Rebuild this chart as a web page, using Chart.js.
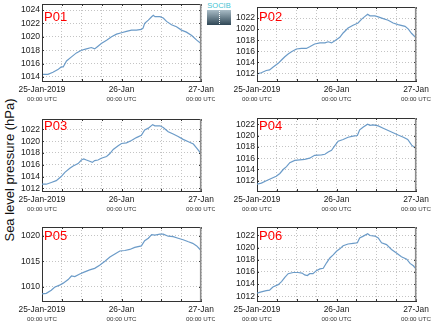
<!DOCTYPE html>
<html><head><meta charset="utf-8">
<script src="https://cdn.jsdelivr.net/npm/chart.js@4/dist/chart.umd.min.js"></script>
<style>
html,body{margin:0;padding:0;background:#fff;width:435px;height:327px;overflow:hidden;position:relative;}
.cv{position:absolute;}
#ytitle{position:absolute;left:9px;top:170px;transform:translate(-50%,-50%) rotate(-90deg);font:13px 'Liberation Sans',Arial,sans-serif;white-space:nowrap;color:#111;}
#logo{position:absolute;left:207px;top:2px;width:24px;}
#logo .t{font:7.5px 'Liberation Sans',Arial,sans-serif;color:#3fc3d3;text-align:center;line-height:8px;letter-spacing:0px;}
#logo .b{height:15px;background:linear-gradient(#a9bcc6,#2f4756);position:relative;}
#logo .b:after{content:'';position:absolute;left:12px;top:1px;height:13px;border-left:1px dotted #fff;}
</style></head><body>
<div id="ytitle">Sea level pressure (hPa)</div>
<div id="logo"><div class="t">SOCIB</div><div class="b"></div></div>
<script>
// ---- data ----
const stations = ['P01','P02','P03','P04','P05','P06'];
const xTickHours = [0, 24, 48];
const xTickLabels = ['25-Jan-2019', '26-Jan', '27-Jan'];
const xTickSub = ['00:00 UTC', '00:00 UTC', '00:00 UTC'];
const xGridHours = [0, 6, 12, 18, 24, 30, 36, 42, 48];

const hoursP01 = [0.3,1.8,3.3,4.8,5.8,6.4,7.4,8.9,10.4,11.9,13.4,14.9,15.9,16.9,17.9,19.5,21.0,22.5,24.0,25.5,27.0,28.5,30.0,30.5,31.0,32.1,33.1,33.6,34.1,35.6,36.6,37.6,39.1,40.6,42.1,43.6,45.2,46.7,48.0];
const pressP01 = [1014.4,1014.4,1014.7,1015.1,1015.5,1015.5,1016.4,1017.0,1017.6,1018.0,1018.2,1018.4,1018.2,1018.6,1019.0,1019.5,1020.0,1020.4,1020.6,1020.8,1021.0,1021.0,1021.1,1021.3,1022.0,1022.5,1023.0,1023.2,1023.0,1023.0,1022.8,1022.3,1021.8,1021.5,1021.0,1020.7,1020.2,1019.5,1019.0];

const hoursP02 = [0,1.3,2.8,3.8,4.8,6.4,7.4,8.4,9.4,10.4,11.9,13.4,14.9,15.9,17.4,19.0,20.5,21.5,22.5,23.5,25.0,26.0,27.5,29.0,30.5,31.6,32.6,33.4,34.1,35.6,36.6,38.1,39.6,41.1,42.6,44.7,45.7,46.7,48.0];
const pressP02 = [1011.9,1012.1,1012.5,1012.6,1013.1,1013.8,1014.4,1015.0,1015.5,1015.9,1016.4,1016.5,1016.5,1016.8,1017.3,1017.5,1017.5,1017.7,1017.5,1017.9,1018.5,1019.3,1020.2,1020.7,1021.1,1021.8,1022.3,1022.7,1022.4,1022.4,1022.2,1021.9,1021.6,1021.1,1020.8,1020.5,1020.0,1019.2,1018.4];

const hoursP03 = [0,1.3,2.8,4.3,5.8,6.9,8.4,9.4,10.9,11.9,12.6,13.4,14.4,15.2,15.9,16.9,17.9,19.5,20.5,21.5,23.0,24.0,25.5,27.0,28.5,30.0,31.0,32.1,33.4,34.1,35.6,36.6,38.1,39.6,41.1,42.6,44.2,45.7,46.7,48.0];
const pressP03 = [1012.7,1012.7,1013.0,1013.3,1014.0,1014.7,1015.4,1015.8,1016.2,1016.8,1017.0,1016.8,1016.6,1016.4,1016.7,1016.8,1017.1,1017.4,1017.9,1018.6,1019.2,1019.6,1019.7,1020.1,1020.6,1021.0,1021.9,1022.2,1022.8,1022.6,1022.6,1022.3,1021.6,1021.2,1020.8,1020.3,1019.9,1019.5,1018.8,1017.9];

const hoursP04 = [0,1.3,2.8,4.3,5.8,6.9,7.9,8.9,9.9,11.4,12.9,14.4,15.9,17.4,19.5,20.5,21.5,22.5,23.5,24.5,26.0,27.5,29.0,30.3,31.0,32.1,33.4,34.1,35.1,36.6,38.1,39.6,41.1,42.6,44.2,45.5,46.7,48.0];
const pressP04 = [1011.4,1011.6,1012.0,1012.4,1012.8,1013.3,1014.0,1014.5,1015.2,1015.6,1015.7,1015.8,1016.0,1016.5,1016.6,1016.7,1017.1,1017.4,1018.2,1019.0,1019.3,1019.7,1019.9,1020.0,1021.0,1021.5,1022.0,1021.8,1021.9,1021.7,1021.3,1020.9,1020.5,1020.1,1019.7,1019.3,1018.3,1017.7];

const hoursP05 = [0,1.3,2.8,3.8,5.3,6.4,7.9,8.9,9.9,11.4,12.9,14.4,15.9,17.4,19.0,20.5,22.0,23.5,25.0,26.5,28.0,30.0,31.0,32.1,33.1,34.1,35.6,36.6,38.1,39.6,41.1,42.6,44.2,45.5,46.7,48.0];
const pressP05 = [1008.6,1008.7,1009.3,1009.9,1010.3,1010.7,1011.4,1012.1,1012.0,1012.5,1012.9,1013.3,1013.6,1014.2,1015.0,1015.8,1016.4,1017.0,1017.1,1017.3,1017.7,1018.0,1019.0,1019.5,1020.2,1020.1,1020.3,1020.3,1019.9,1019.8,1019.5,1019.2,1018.8,1018.5,1018.0,1017.1];

const hoursP06 = [0,1.3,2.8,3.8,4.8,6.4,7.4,8.4,9.4,10.9,12.4,13.6,14.4,15.2,15.9,16.9,17.9,19.0,20.0,21.0,22.0,23.0,24.0,25.0,26.0,27.5,29.0,30.3,31.0,32.1,33.4,34.1,35.6,36.6,37.6,39.1,40.6,42.1,43.6,45.2,46.2,47.2,48.0];
const pressP06 = [1012.5,1012.7,1012.9,1013.0,1013.5,1013.9,1014.4,1015.1,1015.7,1015.9,1015.9,1015.8,1015.5,1015.4,1015.7,1015.7,1016.2,1016.5,1016.6,1017.5,1018.3,1018.8,1019.4,1019.8,1020.3,1020.6,1020.7,1020.8,1021.6,1021.9,1022.3,1022.0,1021.9,1021.6,1020.8,1020.5,1019.7,1019.1,1018.5,1018.1,1017.4,1017.0,1016.5];

const yTicksP01 = [1014,1016,1018,1020,1022,1024];
const yTicksP02 = [1012,1014,1016,1018,1020,1022];
const yTicksP03 = [1012,1014,1016,1018,1020,1022];
const yTicksP04 = [1012,1014,1016,1018,1020,1022];
const yTicksP05 = [1010,1015,1020];
const yTicksP06 = [1012,1014,1016,1018,1020,1022];

const hoursList = [hoursP01,hoursP02,hoursP03,hoursP04,hoursP05,hoursP06];
const pressList = [pressP01,pressP02,pressP03,pressP04,pressP05,pressP06];
const yTickList = [yTicksP01,yTicksP02,yTicksP03,yTicksP04,yTicksP05,yTicksP06];
const yMinList = [1013.4,1010.6,1011.55,1010.2,1007.2,1011.2];
const yMaxList = [1024.9,1024.0,1023.75,1023.1,1021.7,1023.4];

// ---- layout (pixels) ----
const FONT = "'Liberation Sans', Arial, Helvetica, sans-serif";
const colLeft = [0, 215], colWidth = [215, 220], colRight = [201, 416];
const chartTops = [4, 7, 119, 118, 227, 227];
const chartBottoms = [81, 81, 191, 191, 301, 301];
const labelBase = [20.5, 20.5, 130, 130, 239.5, 239.5];
const YW = 42, XH = 26, PADT = 10;

const panelPlugin = {
  id: 'panelDeco',
  afterDraw(chart) {
    const o = chart.options.plugins.panelDeco;
    const ctx = chart.ctx, a = chart.chartArea, xs = chart.scales.x, ys = chart.scales.y;
    ctx.save();
    ctx.strokeStyle = '#333'; ctx.lineWidth = 1;
    ctx.beginPath();
    xGridHours.forEach(h => {
      const px = Math.round(xs.getPixelForValue(h)) + 0.5;
      ctx.moveTo(px, a.bottom); ctx.lineTo(px, a.bottom - 2);
      ctx.moveTo(px, a.top); ctx.lineTo(px, a.top + 2);
    });
    o.yTicks.forEach(v => {
      const py = Math.round(ys.getPixelForValue(v)) + 0.5;
      ctx.moveTo(a.left, py); ctx.lineTo(a.left + 2, py);
      ctx.moveTo(a.right, py); ctx.lineTo(a.right - 2, py);
    });
    ctx.stroke();
    ctx.beginPath(); ctx.strokeStyle = '#333'; ctx.lineWidth = 1;
    ctx.moveTo(a.left, Math.round(a.top) + 0.5); ctx.lineTo(a.right, Math.round(a.top) + 0.5); ctx.stroke();
    ctx.beginPath(); ctx.strokeStyle = '#8c8c8c'; ctx.lineWidth = 1.6;
    ctx.moveTo(a.right - 0.3, a.top); ctx.lineTo(a.right - 0.3, a.bottom); ctx.stroke();
    ctx.textAlign = 'center'; ctx.textBaseline = 'top';
    xTickHours.forEach((h, i) => {
      const px = xs.getPixelForValue(h);
      ctx.fillStyle = '#1a1a1a'; ctx.font = '8.4px ' + FONT;
      ctx.fillText(xTickLabels[i], px, a.bottom + 4);
      ctx.fillStyle = '#333'; ctx.font = '6.2px ' + FONT;
      ctx.fillText(xTickSub[i], px, a.bottom + 15);
    });
    ctx.textAlign = 'left'; ctx.textBaseline = 'alphabetic';
    ctx.fillStyle = '#ff0000'; ctx.font = '13px ' + FONT;
    ctx.fillText(o.name, a.left + 2, o.labelY);
    ctx.restore();
  }
};

stations.forEach((name, i) => {
  const col = i % 2;
  const top = chartTops[i] - PADT;
  const height = chartBottoms[i] + XH - top;
  const cv = document.createElement('canvas');
  cv.className = 'cv';
  cv.style.left = colLeft[col] + 'px';
  cv.style.top = top + 'px';
  cv.style.width = colWidth[col] + 'px';
  cv.style.height = height + 'px';
  cv.width = colWidth[col]; cv.height = height;
  document.body.appendChild(cv);
  const pts = hoursList[i].map((h, k) => ({x: h, y: pressList[i][k]}));
  new Chart(cv, {
    type: 'line',
    data: { datasets: [{ data: pts, borderColor: '#6b9bc8', borderWidth: 1.2, pointRadius: 0, tension: 0, fill: false }] },
    options: {
      responsive: false, animation: false, devicePixelRatio: 1,
      layout: { padding: { left: 0, top: PADT, right: colWidth[col] - (colRight[col] - colLeft[col]), bottom: 0 } },
      plugins: { legend: { display: false }, tooltip: { enabled: false },
        panelDeco: { name: name, yTicks: yTickList[i], labelY: labelBase[i] - top } },
      scales: {
        x: { type: 'linear', min: 0, max: 48,
          afterBuildTicks: s => { s.ticks = xGridHours.map(v => ({value: v})); },
          afterFit: s => { s.height = XH; },
          ticks: { display: false },
          grid: { color: '#c4c4c4', lineWidth: 1, drawTicks: false },
          border: { display: true, color: '#333', width: 1, dash: [1, 2] } },
        y: { type: 'linear', min: yMinList[i], max: yMaxList[i],
          afterBuildTicks: s => { s.ticks = yTickList[i].map(v => ({value: v})); },
          afterFit: s => { s.width = YW; },
          ticks: { color: '#1a1a1a', font: { family: FONT, size: 8.6 }, padding: 2, callback: v => String(v) },
          grid: { color: '#c4c4c4', lineWidth: 1, drawTicks: false },
          border: { display: true, color: '#333', width: 1, dash: [1, 2] } }
      }
    },
    plugins: [panelPlugin]
  });
});
</script>
</body></html>
